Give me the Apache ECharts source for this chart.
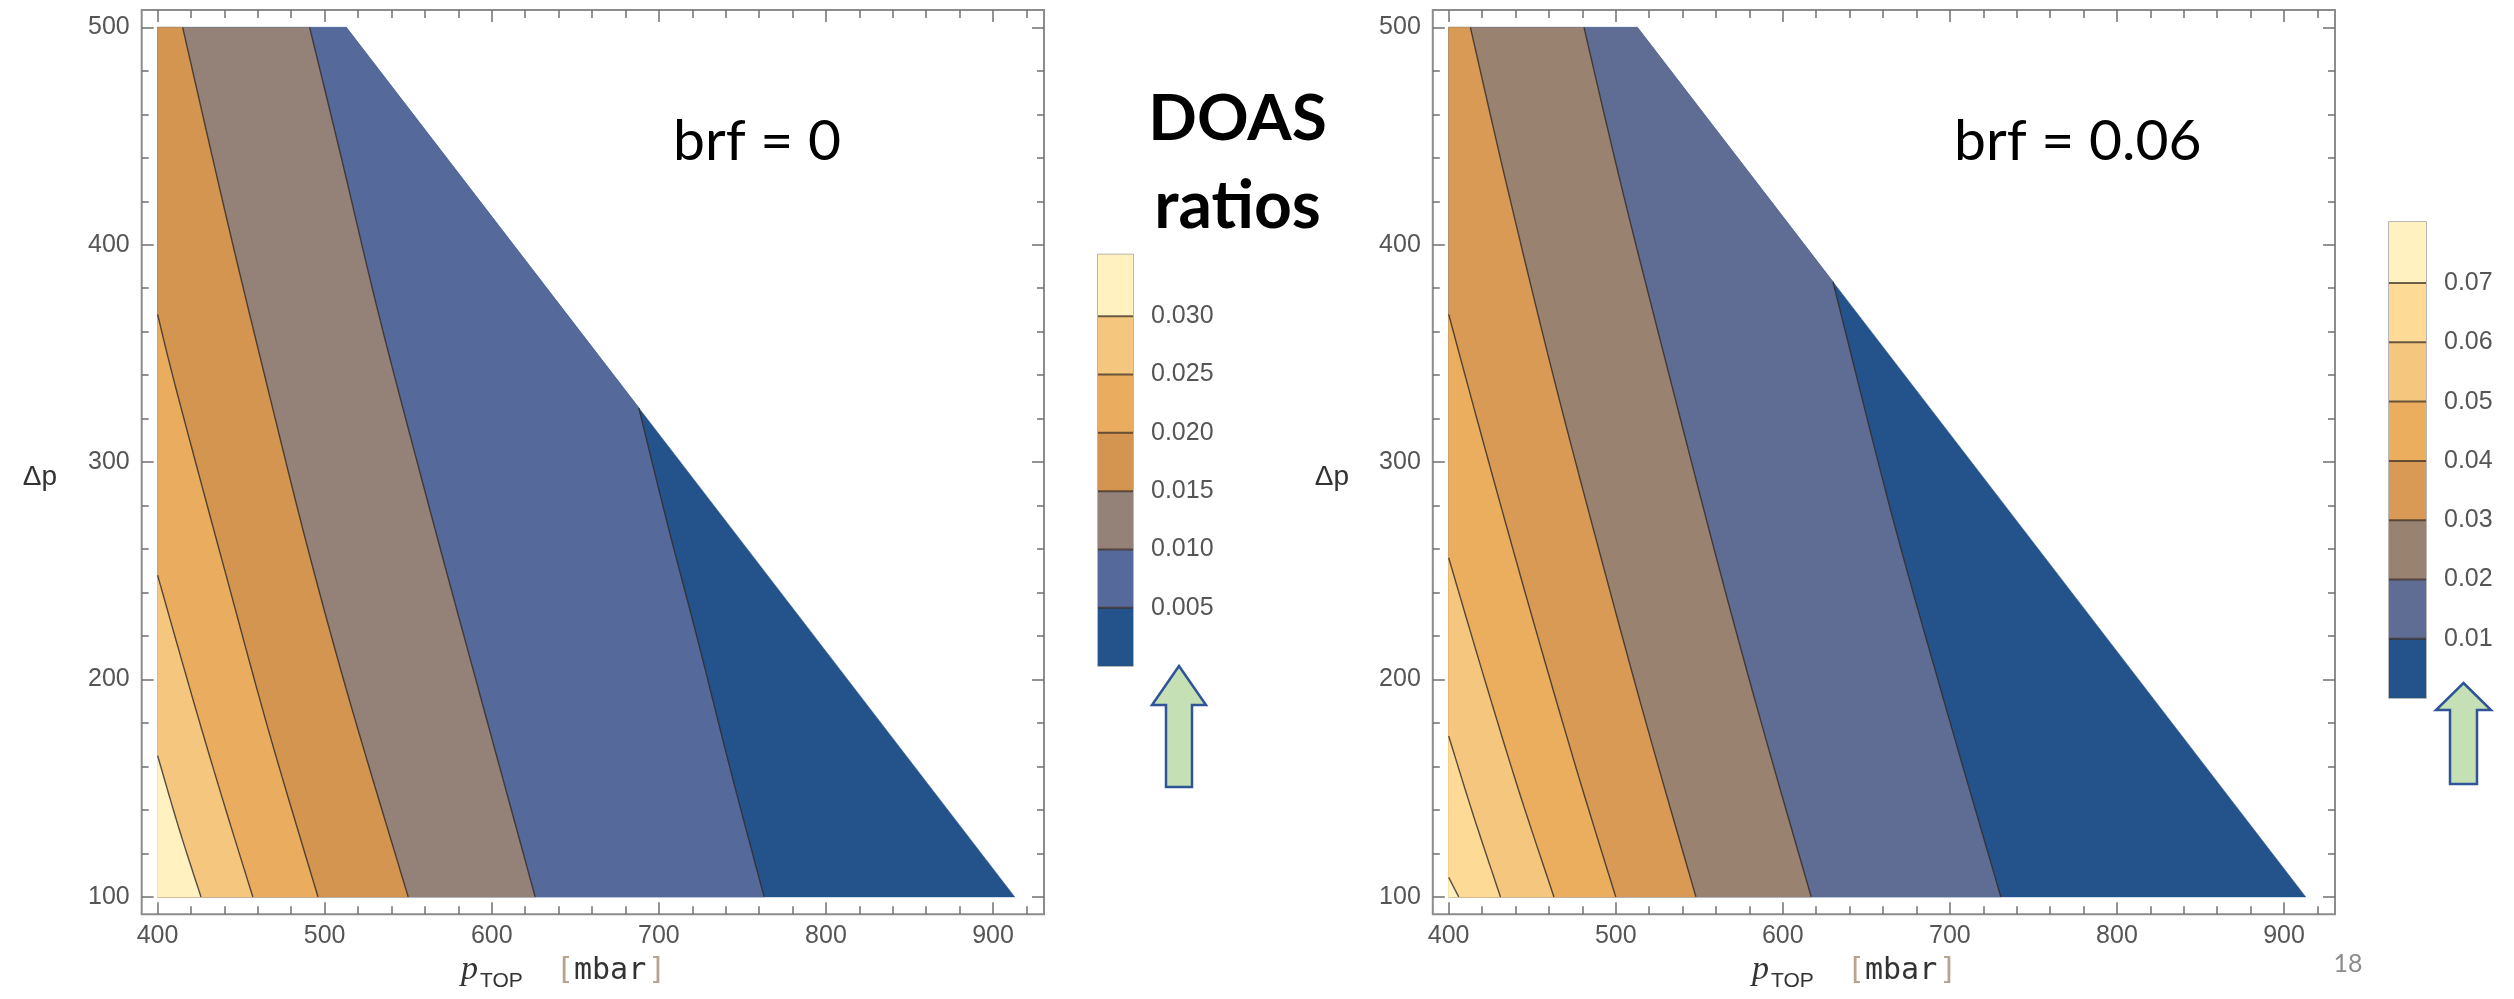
<!DOCTYPE html>
<html><head><meta charset="utf-8">
<script src="https://cdn.jsdelivr.net/npm/echarts@6/dist/echarts.min.js"></script>
<style>html,body{margin:0;padding:0;background:#fff;}#c{width:2514px;height:999px;}</style>
</head><body><div id="c"></div>
<script>
// ---- tick labels ----
const pTopMajor = [400, 500, 600, 700, 800, 900];
const pTopMinor = [420,440,460,480,520,540,560,580,620,640,660,680,720,740,760,780,820,840,860,880,920];
const dpMajor = [100, 200, 300, 400, 500];
const dpMinor = [120,140,160,180,220,240,260,280,320,340,360,380,420,440,460,480];

// ---- computed domain ----
const domainCorners = [[400, 100], [400, 500]];
const surfaceEdge = [[513, 500], [913, 100]];

// ---- brf = 0 : contour lines [pTop, dp], from start to bottom edge ----
const brf0Levels = [0.005, 0.010, 0.015, 0.020, 0.025, 0.030];
const brf0Colors = ['#24528a', '#556a9b', '#948178', '#d3954f', '#eaad5f', '#f5c67e', '#fff1c0'];
const brf0Max = 0.0353;
const brf0_c005 = [[688, 325], [705, 272], [723, 219], [743, 158], [763, 100]];
const brf0_c010 = [[491, 500], [510, 440], [533, 366], [563, 278], [594, 190], [626, 100]];
const brf0_c015 = [[415, 500], [442, 410], [465, 337], [489, 263], [515, 190], [550, 100]];
const brf0_c020 = [[400, 368], [412, 331], [441, 248], [467, 175], [496, 100]];
const brf0_c025 = [[400, 248], [421.5, 190], [438.5, 146], [457, 100]];
const brf0_c030 = [[400, 165], [413, 131], [426, 100]];

// ---- brf = 0.06 ----
const brf6Levels = [0.01, 0.02, 0.03, 0.04, 0.05, 0.06, 0.07];
const brf6Colors = ['#24528a', '#5f6d95', '#9a8271', '#d89a55', '#eaae5e', '#f5c77e', '#fddb97', '#fff2c0'];
const brf6Max = 0.0803;
const brf6_c01 = [[630, 383], [664.5, 278], [696.5, 190], [730.5, 100]];
const brf6_c02 = [[481, 500], [504, 425], [533, 337], [563, 248], [589, 175], [617, 100]];
const brf6_c03 = [[413, 500], [435.5, 425], [463.5, 337], [494, 248], [520, 175], [548, 100]];
const brf6_c04 = [[400, 368], [421.5, 307], [448, 234], [476, 160], [500, 100]];
const brf6_c05 = [[400, 256], [420, 204], [441.5, 150], [463, 100]];
const brf6_c06 = [[400, 174], [415, 137], [431, 100]];
const brf6_c07 = [[400, 109], [406, 100]];

const X_RANGE = [390.5, 930.5];
const Y_RANGE = [92, 508];

function regionTail(pts) {
  const tail = [domainCorners[0]];
  const s = pts[0];
  if (s[0] > domainCorners[1][0]) {
    tail.push(domainCorners[1]);
    if (s[1] < domainCorners[1][1]) tail.push(surfaceEdge[0]);
  }
  return tail;
}
const domainPoly = [domainCorners[0], domainCorners[1], surfaceEdge[0], surfaceEdge[1]];

// Catmull-Rom smoothing of pixel points (rendering only)
function smoothPx(px) {
  const n = px.length;
  if (n < 3) return px;
  const out = [px[0]];
  for (let i = 0; i < n - 1; i++) {
    const p0 = px[Math.max(i - 1, 0)], p1 = px[i], p2 = px[i + 1], p3 = px[Math.min(i + 2, n - 1)];
    const c1 = [p1[0] + (p2[0] - p0[0]) / 6, p1[1] + (p2[1] - p0[1]) / 6];
    const c2 = [p2[0] - (p3[0] - p1[0]) / 6, p2[1] - (p3[1] - p1[1]) / 6];
    for (let k = 1; k <= 12; k++) {
      const t = k / 12, u = 1 - t;
      out.push([
        u*u*u*p1[0] + 3*u*u*t*c1[0] + 3*u*t*t*c2[0] + t*t*t*p2[0],
        u*u*u*p1[1] + 3*u*u*t*c1[1] + 3*u*t*t*c2[1] + t*t*t*p2[1]
      ]);
    }
  }
  return out;
}

const plots = [
  {contours: [brf0_c005, brf0_c010, brf0_c015, brf0_c020, brf0_c025, brf0_c030], colors: brf0Colors,
   levels: brf0Levels, max: brf0Max, fmt: 3},
  {contours: [brf6_c01, brf6_c02, brf6_c03, brf6_c04, brf6_c05, brf6_c06, brf6_c07], colors: brf6Colors,
   levels: brf6Levels, max: brf6Max, fmt: 2}
];

const gridRects = [
  {left: 141.7, top: 10, width: 902.3, height: 904.3},
  {left: 1432.8, top: 10, width: 902.2, height: 904.3}
];
const barRects = [
  {left: 1098, top: 254.5, width: 35, height: 411.5},
  {left: 2389, top: 222, width: 37, height: 476}
];

const labelFont = {fontFamily: 'Liberation Sans', fontSize: 25, color: '#555'};
const grids = [], xAxes = [], yAxes = [], series = [];

gridRects.forEach((r, g) => {
  grids.push(Object.assign({show: true, borderColor: '#8c8c8c', borderWidth: 2, backgroundColor: 'transparent'}, r));
  const mk = (pos, vals, len, lab, isX) => ({
    type: 'value', gridIndex: g, position: pos,
    min: isX ? X_RANGE[0] : Y_RANGE[0], max: isX ? X_RANGE[1] : Y_RANGE[1],
    axisLine: {show: false}, splitLine: {show: false},
    axisTick: {show: true, inside: true, length: len, customValues: vals, lineStyle: {color: '#707070', width: 1.5}},
    axisLabel: lab ? Object.assign({show: true, customValues: vals, margin: isX ? 9 : 12}, labelFont) : {show: false}
  });
  xAxes.push(mk('bottom', pTopMajor, 12, true, true), mk('bottom', pTopMinor, 8, false, true),
             mk('top', pTopMajor, 12, false, true), mk('top', pTopMinor, 8, false, true));
  yAxes.push(mk('left', dpMajor, 12, true, false), mk('left', dpMinor, 7, false, false),
             mk('right', dpMajor, 12, false, false), mk('right', dpMinor, 7, false, false));

  const P = plots[g];
  const regions = [null].concat(P.contours);
  series.push({
    type: 'custom', xAxisIndex: g * 4, yAxisIndex: g * 4, silent: true, animation: false,
    data: regions.map(() => [400, 100]),
    renderItem: (params, api) => {
      const c = regions[params.dataIndex];
      let pts;
      if (!c) pts = domainPoly.map(p => api.coord(p));
      else pts = smoothPx(c.map(p => api.coord(p))).concat(regionTail(c).map(p => api.coord(p)));
      return {type: 'polygon', shape: {points: pts},
        style: {fill: P.colors[params.dataIndex], stroke: P.colors[params.dataIndex], lineWidth: 0.5}};
    }
  });
  series.push({
    type: 'custom', xAxisIndex: g * 4, yAxisIndex: g * 4, silent: true, animation: false, z: 3,
    data: P.contours.map(() => [400, 100]),
    renderItem: (params, api) => ({
      type: 'polyline',
      shape: {points: smoothPx(P.contours[params.dataIndex].map(p => api.coord(p)))},
      style: {stroke: 'rgba(45,40,40,0.8)', lineWidth: 1.4, fill: null}
    })
  });
});

// colour bars
barRects.forEach((r, b) => {
  const gi = grids.length;
  grids.push(Object.assign({show: true, borderColor: '#a0a0a0', borderWidth: 1.5, backgroundColor: 'transparent'}, r));
  const P = plots[b];
  xAxes.push({type: 'value', gridIndex: gi, min: 0, max: 1, show: false});
  yAxes.push({type: 'value', gridIndex: gi, position: 'right', min: 0, max: P.max,
    axisLine: {show: false}, splitLine: {show: false},
    axisTick: {show: true, inside: false, length: 11, customValues: P.levels, lineStyle: {color: '#999', width: 1.5}},
    axisLabel: Object.assign({show: true, customValues: P.levels, margin: 18, formatter: v => v.toFixed(P.fmt)}, labelFont)});
  const edges = [0].concat(P.levels, [P.max]);
  const ai = xAxes.length - 1;
  series.push({
    type: 'custom', xAxisIndex: ai, yAxisIndex: ai, silent: true, animation: false,
    data: P.colors.map(() => [0, 0]),
    renderItem: (params, api) => {
      const i = params.dataIndex;
      const a = api.coord([0, edges[i + 1]]), c = api.coord([1, edges[i]]);
      const children = [{type: 'rect', shape: {x: a[0], y: a[1], width: c[0] - a[0], height: c[1] - a[1]},
        style: {fill: P.colors[i]}}];
      if (i > 0) children.push({type: 'line', shape: {x1: c[0], y1: c[1], x2: a[0], y2: c[1]},
        style: {stroke: 'rgba(60,45,35,0.75)', lineWidth: 2}});
      return {type: 'group', children};
    }
  });
});

function ptopLabel(x0) {
  return [
    {type: 'text', x: x0, y: 970, style: {text: 'p', font: 'italic 34px "Liberation Serif"', fill: '#333', verticalAlign: 'middle'}},
    {type: 'text', x: x0 + 19, y: 981, style: {text: 'TOP', font: '21px "Liberation Sans"', fill: '#333', verticalAlign: 'middle'}},
    {type: 'text', x: x0 + 95, y: 971, style: {text: '[', font: '30px "DejaVu Sans Mono"', fill: '#b9a38e', verticalAlign: 'middle'}},
    {type: 'text', x: x0 + 113, y: 971, style: {text: 'mbar', font: '30px "DejaVu Sans Mono"', fill: '#333', verticalAlign: 'middle'}},
    {type: 'text', x: x0 + 187, y: 971, style: {text: ']', font: '30px "DejaVu Sans Mono"', fill: '#b9a38e', verticalAlign: 'middle'}}
  ];
}
const arrowLeft = [[1179, 666], [1206, 705], [1192, 705], [1192, 787], [1166, 787], [1166, 705], [1152, 705]];
const arrowRight = [[2463.5, 683], [2491, 710], [2477, 710], [2477, 784], [2450, 784], [2450, 710], [2436, 710]];
const graphic = [
  {type: 'text', x: 40, y: 477, style: {text: 'Δp', font: '28px "Liberation Sans"', fill: '#333', align: 'center', verticalAlign: 'middle'}},
  {type: 'text', x: 1332, y: 477, style: {text: 'Δp', font: '28px "Liberation Sans"', fill: '#333', align: 'center', verticalAlign: 'middle'}},
  ...ptopLabel(461), ...ptopLabel(1752),
  {type: 'text', x: 673, y: 142, style: {text: 'brf = 0', font: '57px Lato', fill: '#000', verticalAlign: 'middle'}},
  {type: 'text', x: 1954, y: 142, style: {text: 'brf = 0.06', font: '57px Lato', fill: '#000', verticalAlign: 'middle'}},
  {type: 'text', x: 1237.5, y: 119, style: {text: 'DOAS', font: 'bold 64px Lato', fill: '#000', align: 'center', verticalAlign: 'middle'}},
  {type: 'text', x: 1237.5, y: 207, style: {text: 'ratios', font: 'bold 66px Lato', fill: '#000', align: 'center', verticalAlign: 'middle'}},
  {type: 'text', x: 2348, y: 964, style: {text: '18', font: '25px Lato', fill: '#8c8c8c', align: 'center', verticalAlign: 'middle'}},
  {type: 'polygon', shape: {points: arrowLeft}, style: {fill: '#c5e0b4', stroke: '#2f5597', lineWidth: 2.5}},
  {type: 'polygon', shape: {points: arrowRight}, style: {fill: '#c5e0b4', stroke: '#2f5597', lineWidth: 2.5}}
];

const chart = echarts.init(document.getElementById('c'), null, {renderer: 'canvas'});
chart.setOption({animation: false, backgroundColor: '#fff', grid: grids, xAxis: xAxes, yAxis: yAxes, series, graphic});
</script></body></html>
